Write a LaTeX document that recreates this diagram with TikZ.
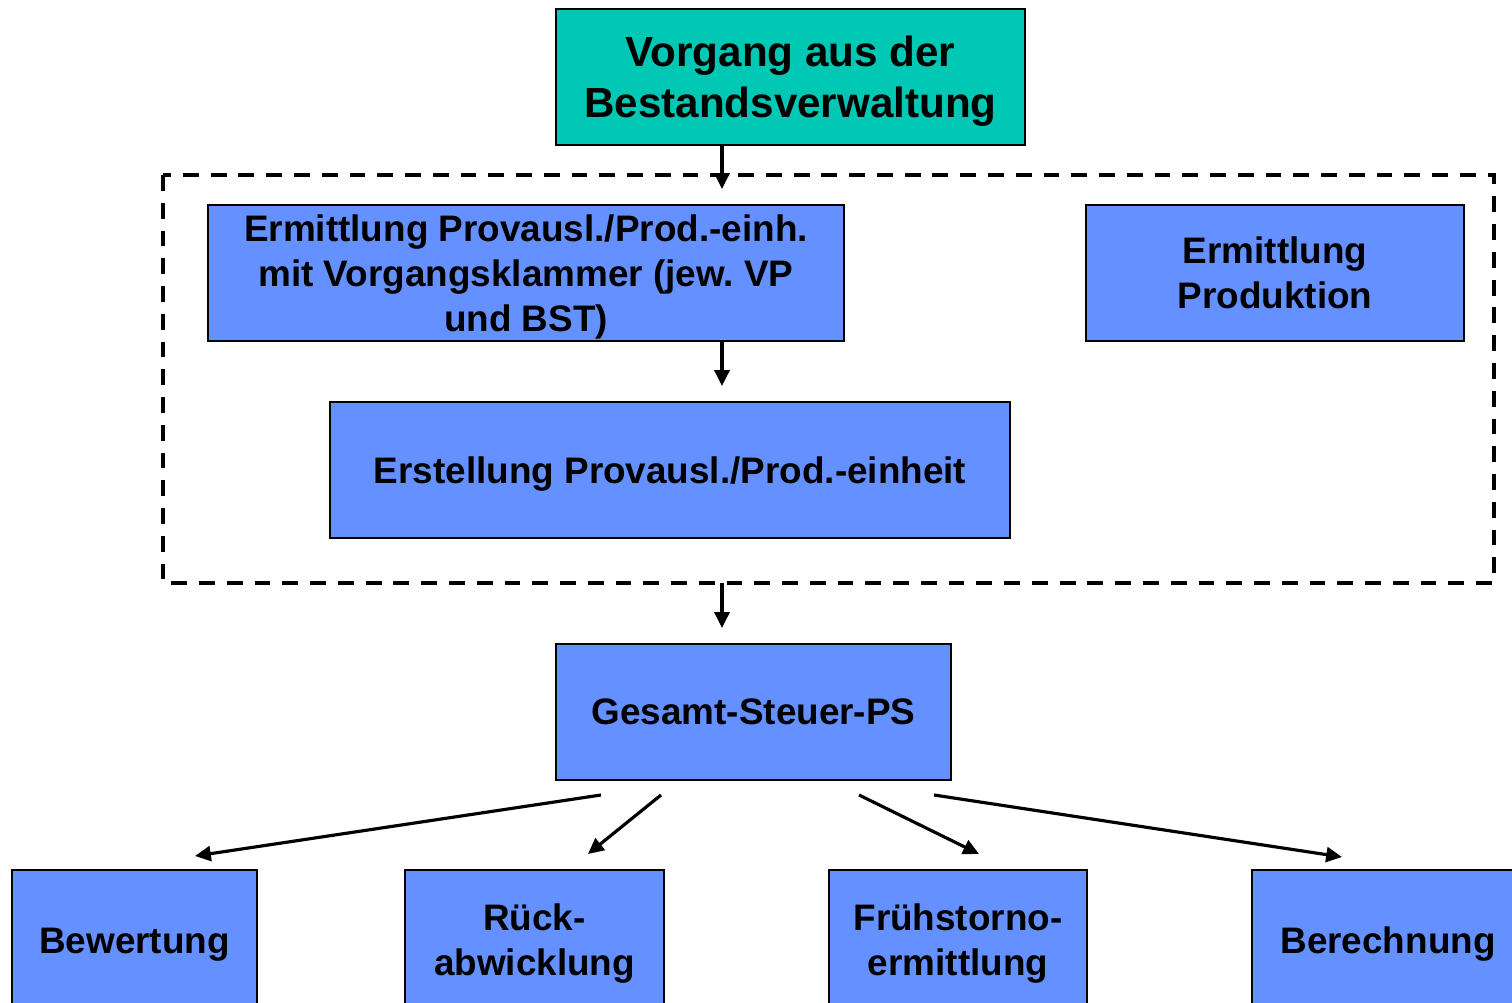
\documentclass[tikz,border=0pt]{standalone}
\usepackage{fontspec}
\setmainfont{Liberation Sans}
\usetikzlibrary{arrows.meta}

\definecolor{tealbox}{RGB}{0,200,180}
\definecolor{bluebox}{RGB}{100,145,255}
\newcommand{\upstrut}{\rule{0pt}{0.92em}}
\frenchspacing

\begin{document}
\begin{tikzpicture}[x=0.02cm, y=-0.02cm,
  box/.style={draw=black, line width=0.8pt, inner sep=0pt, align=center,
    fill=bluebox, minimum height=2.72cm,
    font=\fontsize{21}{25.6}\selectfont\bfseries},
  arr/.style={-{Triangle[length=9pt,width=8.5pt]}, line width=1.8pt}]
\useasboundingbox (0,0) rectangle (1512,1003);
\clip (0,0) rectangle (1512,1003);

% boxes
\node[box, fill=tealbox, minimum width=9.38cm,
  font=\fontsize{24}{29.5}\selectfont\bfseries] (vorgang) at (790.5,77)
  {\upstrut Vorgang aus der\\Bestandsverwaltung};
\node[box, minimum width=12.72cm] (ermprov) at (526,273)
  {\upstrut Ermittlung Provausl./Prod.-einh.\\mit Vorgangsklammer (jew.\ VP\\und BST)};
\node[box, minimum width=7.56cm] (ermprod) at (1275,273)
  {Ermittlung\\Produktion};
\node[box, minimum width=13.6cm] (erst) at (670,470)
  {\upstrut Erstellung Provausl./Prod.-einheit};
\node[box, minimum width=7.9cm] (gesamt) at (753.5,712)
  {Gesamt-Steuer-PS};

\node[box, minimum width=4.9cm, minimum height=2.8cm] (bew) at (134.5,940)
  {\upstrut Bewertung};
\node[box, minimum width=5.18cm, minimum height=2.8cm] (rueck) at (534.5,940)
  {\upstrut R\"uck-\\abwicklung};
\node[box, minimum width=5.16cm, minimum height=2.8cm] (frueh) at (958,940)
  {\upstrut Fr\"uhstorno-\\ermittlung};
\node[box, minimum width=5.44cm, minimum height=2.8cm] (berech) at (1388,940)
  {\upstrut Berechnung};

% dashed frame
\coordinate (fnw) at (163,175);
\coordinate (fse) at (1494,583);
\draw[dash pattern=on 9pt off 6.8pt, line width=2pt] (fnw) rectangle (fse);

% vertical arrows
\coordinate (a1) at (722,189);
\coordinate (a2) at (722,386);
\coordinate (a3) at (722,628);
\draw[arr] (vorgang.south -| a1) -- (a1);
\draw[arr] (ermprov.south -| a2) -- (a2);
\draw[arr] (fse -| a3) -- (a3);

% fan out below
\coordinate (s1) at (601,795);
\coordinate (s2) at (661,795);
\coordinate (s3) at (859,795);
\coordinate (s4) at (934,795);
\coordinate (e1) at (195,856);
\coordinate (e2) at (588,854);
\coordinate (e3) at (979,854);
\coordinate (e4) at (1342,857);
\draw[arr] (s1) -- (e1);
\draw[arr] (s2) -- (e2);
\draw[arr] (s3) -- (e3);
\draw[arr] (s4) -- (e4);

\end{tikzpicture}
\end{document}
